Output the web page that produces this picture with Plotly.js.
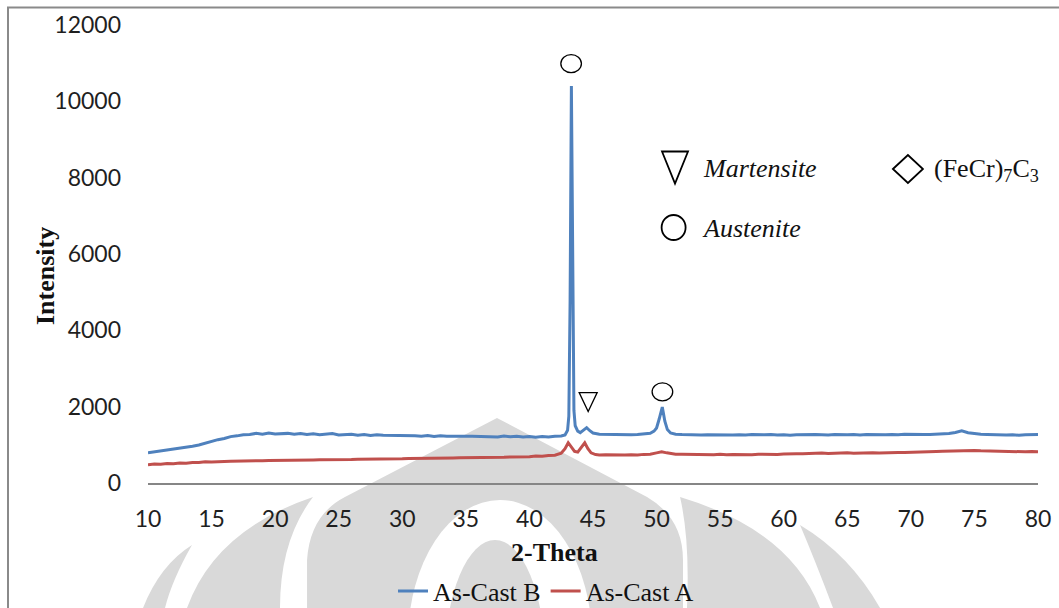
<!DOCTYPE html>
<html>
<head>
<meta charset="utf-8">
<script src="https://cdn.plot.ly/plotly-3.0.1.min.js"></script>
<style>html,body{margin:0;padding:0;background:#fff;}#chart{width:1059px;height:608px;}</style>
</head>
<body>
<div id="chart"></div>
<script>
// ---- Data ----
const seriesNames = ["As-Cast B", "As-Cast A"];

const thetaB = [10,10.5,11,11.5,12,12.5,13,13.5,14,14.5,15,15.5,16,16.5,17,17.5,18,18.5,19,19.5,20,20.5,21,21.5,22,22.5,23,23.5,24,24.5,25,25.5,26,26.5,27,27.5,28,28.5,29,29.5,30,30.5,31,31.5,32,32.5,33,33.5,34,34.5,35,35.5,36,36.5,37,37.5,38,38.5,39,39.5,40,40.5,41,41.5,42,42.5,42.8,43.0,43.1,43.2,43.3,43.4,43.5,43.6,43.8,44.0,44.2,44.5,44.75,45.0,45.5,46,46.5,47,47.5,48,48.5,49,49.5,49.8,50.0,50.2,50.45,50.65,50.85,51.1,51.5,52,52.5,53,53.5,54,54.5,55,55.5,56,56.5,57,57.5,58,58.5,59,59.5,60,60.5,61,61.5,62,62.5,63,63.5,64,64.5,65,65.5,66,66.5,67,67.5,68,68.5,69,69.5,70,70.5,71,71.5,72,72.5,73,73.5,74,74.5,75,75.5,76,76.5,77,77.5,78,78.5,79,79.5,80];
const intensityB = [790,815,825,855,875,905,925,965,995,1045,
  1085,1135,1165,1215,1235,1265,1270,1300,1275,1310,
  1285,1290,1300,1275,1295,1270,1290,1265,1285,1295,
  1260,1265,1275,1250,1270,1245,1265,1250,1250,1245,
  1245,1240,1240,1225,1245,1220,1240,1225,1230,1230,
  1225,1225,1220,1220,1225,1205,1230,1210,1225,1205,
  1220,1200,1220,1205,1225,1230,
  1260,1380,1750,4800,10400,4600,1900,1500,1360,1320,1380,1450,1370,1310,
  1280,1275,1270,1270,1265,1265,1270,1290,1305,
  1360,1440,1670,1990,1620,1400,1310,
  1280,
  1270,1262,1268,1258,1265,1260,1255,1262,1258,1265,
  1255,1268,1260,1263,1270,1255,1265,1252,1262,1268,
  1258,1270,1262,1255,1268,1258,1263,1272,1258,1268,
  1262,1275,1266,1270,1262,1275,1268,1265,1274,1268,
  1278,1282,1295,1325,1365,1318,1290,1275,1268,1260,
  1266,1255,1262,1252,1266,1258,1268];

const thetaA = [10,10.5,11,11.5,12,12.5,13,13.5,14,14.5,15,15.5,16,16.5,17,17.5,18,18.5,19,19.5,20,20.5,21,21.5,22,22.5,23,23.5,24,24.5,25,25.5,26,26.5,27,27.5,28,28.5,29,29.5,30,30.5,31,31.5,32,32.5,33,33.5,34,34.5,35,35.5,36,36.5,37,37.5,38,38.5,39,39.5,40,40.5,41,41.5,42,42.5,42.8,43.05,43.3,43.55,43.8,44.1,44.35,44.6,44.85,45.2,45.5,46,46.5,47,47.5,48,48.5,49,49.5,50,50.4,50.8,51.2,51.5,52,52.5,53,53.5,54,54.5,55,55.5,56,56.5,57,57.5,58,58.5,59,59.5,60,60.5,61,61.5,62,62.5,63,63.5,64,64.5,65,65.5,66,66.5,67,67.5,68,68.5,69,69.5,70,70.5,71,71.5,72,72.5,73,73.5,74,74.5,75,75.5,76,76.5,77,77.5,78,78.5,79,79.5,80];
const intensityA = [480,495,490,510,505,525,520,540,535,555,
  550,565,565,570,570,585,580,585,585,590,
  590,595,595,600,600,605,605,610,607,615,
  610,615,615,620,620,625,625,630,627,633,
  633,640,640,645,645,650,650,655,655,660,
  660,665,665,673,670,677,675,683,680,695,
  690,705,700,720,730,780,
  900,1055,950,830,810,940,1055,900,790,745,
  733,
  740,735,735,733,740,735,750,755,790,
  820,790,770,
  755,
  752,748,755,745,750,742,752,740,750,745,
  748,743,752,746,755,748,758,752,765,768,
  778,772,783,776,785,779,790,782,792,786,
  795,788,798,792,802,796,806,812,816,822,
  826,832,838,845,852,845,850,842,838,832,
  828,824,820,826,818,828,820];

const xTickVals = [10,15,20,25,30,35,40,45,50,55,60,65,70,75,80];
const xTickText = ["10","15","20","25","30","35","40","45","50","55","60","65","70","75","80"];
const yTickVals = [0,2000,4000,6000,8000,10000,12000];
const yTickText = ["0","2000","4000","6000","8000","10000","12000"];

// peak markers: [2theta, intensity, kind]
const peakMarks = [[43.28, 10990, "austenite"], [44.62, 2120, "martensite"], [50.46, 2390, "austenite"]];
// key entries: [2theta, intensity, kind, label]
const keyEntries = [[51.45, 8266, "martensite", "<i>Martensite</i>"], [69.77, 8227, "carbide", "(FeCr)<sub>7</sub>C<sub>3</sub>"], [51.34, 6694, "austenite", "<i>Austenite</i>"]];

// ---- Layout geometry (pixels of the 1059x608 frame) ----
const M = {l: 148, r: 21, t: 25, b: 125, autoexpand: false};
const PW = 1059 - M.l - M.r, PH = 608 - M.t - M.b;
const px2x = p => (p - M.l) / PW;
const py2y = p => (608 - M.b - p) / PH;
function pathPx(cmds) {
  return cmds.map(c => {
    const out = [c[0]];
    for (let i = 1; i < c.length; i += 2) out.push(px2x(c[i]).toFixed(4) + "," + py2y(c[i + 1]).toFixed(4));
    return out[0] + (out.length > 1 ? " " + out.slice(1).join(" ") : "");
  }).join(" ");
}
const wm = "#d9d9d9";
const shapes = [];
// watermark (background decoration)
function wmPath(cmds, color) {
  shapes.push({type: "path", xref: "paper", yref: "paper", layer: "below", path: pathPx(cmds), fillcolor: color, line: {width: 0}});
}
function wmEllipse(cx, cy, rx, ry, color) {
  shapes.push({type: "circle", xref: "paper", yref: "paper", layer: "below",
    x0: px2x(cx - rx), x1: px2x(cx + rx), y0: py2y(cy + ry), y1: py2y(cy - ry), fillcolor: color, line: {width: 0}});
}
wmPath([["M",307,640],["L",307,560],["Q",310,515,345,497],["L",497,418],["L",647,497],["Q",683,518,683,560],["L",683,640],["Z"]], wm);
wmEllipse(500, 640, 92, 140, "#ffffff");
wmEllipse(495, 660, 50, 120, wm);
wmPath([["M",187,640],["L",187,608],["Q",215,530,313,497],["Q",280,540,280,608],["L",280,640],["Z"]], wm);
wmPath([["M",687,640],["L",687,608],["Q",690,540,680,497],["Q",790,530,820,608],["L",820,640],["Z"]], wm);
wmPath([["M",140,640],["L",143,608],["Q",160,565,192,545],["Q",172,580,165,608],["L",165,640],["Z"]], wm);
wmPath([["M",833,640],["L",833,608],["Q",815,560,800,525],["Q",850,555,880,608],["L",880,640],["Z"]], wm);

// outer border of the chart frame
shapes.push({type: "rect", xref: "paper", yref: "paper", layer: "above",
  x0: px2x(8), x1: px2x(1080), y0: py2y(630), y1: py2y(7.5), line: {color: "#8a8a8a", width: 2}, fillcolor: "rgba(0,0,0,0)"});

// phase symbols
function symbolShape(x, y, kind, big) {
  const lw = big ? 1.8 : 1.3;
  const base = {xref: "x", yref: "y", xsizemode: "pixel", ysizemode: "pixel", xanchor: x, yanchor: y, line: {color: "#000", width: lw}, fillcolor: "rgba(0,0,0,0)", layer: "above"};
  if (kind === "austenite") {
    const rx = big ? 12 : 10.3, ry = big ? 12.5 : 9;
    return Object.assign(base, {type: "circle", x0: -rx, x1: rx, y0: -ry, y1: ry});
  }
  if (kind === "martensite") {
    const w = big ? 13 : 9, h = big ? 16 : 9.5;
    return Object.assign(base, {type: "path", path: `M ${-w} ${h} L ${w} ${h} L 0 ${-h} Z`});
  }
  return Object.assign(base, {type: "path", path: "M -15 0 L 0 14 L 15 0 L 0 -14 Z"});
}
peakMarks.forEach(p => shapes.push(symbolShape(p[0], p[1], p[2], false)));
keyEntries.forEach(k => shapes.push(symbolShape(k[0], k[1], k[2], true)));

const serif = "Liberation Serif, Times New Roman, serif";
const annotations = keyEntries.map(k => ({
  x: k[0] + (k[2] === "carbide" ? 1.9 : 2.05), y: k[1] - 20, xref: "x", yref: "y", xanchor: "left", yanchor: "middle",
  text: k[3], showarrow: false, font: {family: serif, size: 26, color: "#111"}
}));
annotations.push({text: "<b>Intensity</b>", textangle: -90, xref: "paper", yref: "paper", x: px2x(45), y: py2y(276),
  xanchor: "center", yanchor: "middle", showarrow: false, font: {family: serif, size: 26, color: "#111"}});
annotations.push({text: "<b>2-Theta</b>", xref: "paper", yref: "paper", x: px2x(554), y: py2y(552),
  xanchor: "center", yanchor: "middle", showarrow: false, font: {family: serif, size: 26, color: "#111"}});

const traces = [
  {x: thetaB, y: intensityB, name: seriesNames[0], type: "scatter", mode: "lines", line: {color: "#4f81bd", width: 3}},
  {x: thetaA, y: intensityA, name: seriesNames[1], type: "scatter", mode: "lines", line: {color: "#c0504d", width: 3}}
];

const tickFont = {family: "Lato, Open Sans, sans-serif", size: 23, color: "#1f1f1f"};
const layout = {
  width: 1059, height: 608, autosize: false,
  margin: M,
  paper_bgcolor: "#ffffff", plot_bgcolor: "rgba(0,0,0,0)",
  showlegend: true,
  legend: {orientation: "h", x: px2x(546), xanchor: "center", y: py2y(591), yanchor: "middle",
    font: {family: serif, size: 26, color: "#111"}, bgcolor: "rgba(0,0,0,0)"},
  xaxis: {range: [10, 80], tickvals: xTickVals, ticktext: xTickText, showgrid: false, zeroline: false, showline: true,
    linecolor: "#868686", linewidth: 1.5, ticks: "", tickfont: tickFont, ticklabelstandoff: 15, fixedrange: true},
  yaxis: {range: [0, 12000], tickvals: yTickVals, ticktext: yTickText, showgrid: false, zeroline: false, showline: false,
    ticks: "", tickfont: tickFont, ticklabelstandoff: 26, fixedrange: true},
  shapes: shapes,
  annotations: annotations
};
Plotly.newPlot("chart", traces, layout, {staticPlot: true, displayModeBar: false});
</script>
</body>
</html>
